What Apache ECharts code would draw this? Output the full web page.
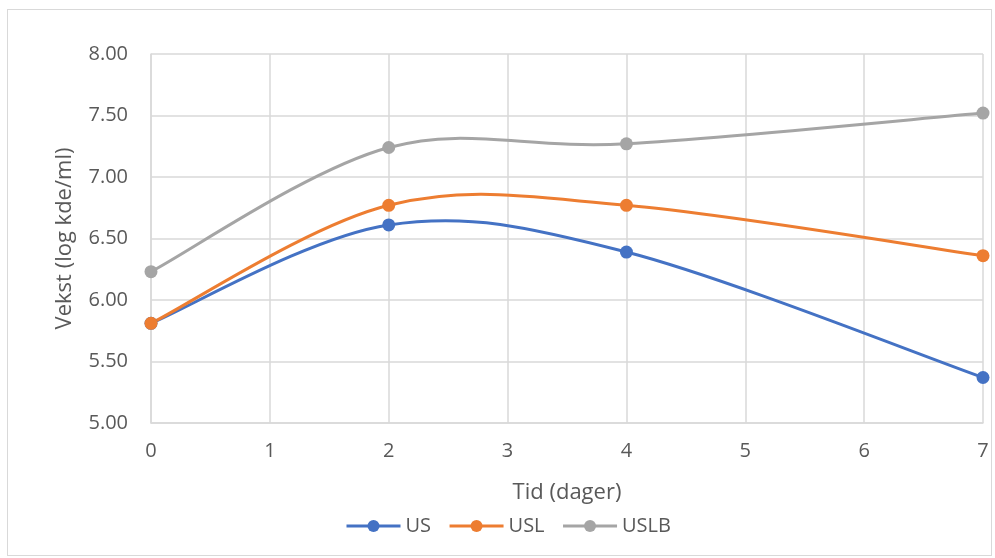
<!DOCTYPE html>
<html>
<head>
<meta charset="utf-8">
<script src="https://cdn.jsdelivr.net/npm/echarts@6/dist/echarts.min.js"></script>
<style>
html,body{margin:0;padding:0;background:#fff;}
#frame{position:absolute;left:7px;top:9px;width:985px;height:547px;border:1px solid #d9d9d9;box-sizing:border-box;}
#chart{position:absolute;left:0;top:0;width:995px;height:558px;}
</style>
</head>
<body>
<div id="frame"></div>
<div id="chart"></div>
<script>
const days = [0, 2, 4, 7];
const seriesNames = ['US', 'USL', 'USLB'];
const usValues = [5.81, 6.61, 6.39, 5.37];
const uslValues = [5.81, 6.77, 6.77, 6.36];
const uslbValues = [6.23, 7.24, 7.27, 7.52];
const colors = ['#4472C4', '#ED7D31', '#A5A5A5'];

const allValues = [usValues, uslValues, uslbValues];
const font = '"Open Sans", "Liberation Sans", sans-serif';
const labelColor = '#595959';
const gridColor = '#d9d9d9';

// Excel-like smoothed curve (Catmull-Rom -> cubic Bezier) through data points, via the axis scales
function smoothPath(pts) {
  let d = 'M' + pts[0][0] + ' ' + pts[0][1];
  for (let i = 0; i < pts.length - 1; i++) {
    const p0 = pts[i - 1] || pts[i];
    const p1 = pts[i];
    const p2 = pts[i + 1];
    const p3 = pts[i + 2] || pts[i + 1];
    const c1x = p1[0] + (p2[0] - p0[0]) / 6, c1y = p1[1] + (p2[1] - p0[1]) / 6;
    const c2x = p2[0] - (p3[0] - p1[0]) / 6, c2y = p2[1] - (p3[1] - p1[1]) / 6;
    d += ' C' + c1x + ' ' + c1y + ' ' + c2x + ' ' + c2y + ' ' + p2[0] + ' ' + p2[1];
  }
  return d;
}

const curveSeries = seriesNames.map((n, i) => ({
  name: n + '_curve',
  type: 'custom',
  z: 1,
  silent: true,
  data: [[days[0], allValues[i][0]]],
  renderItem: function (params, api) {
    if (params.dataIndex !== 0) return null;
    const pts = days.map((d, j) => api.coord([d, allValues[i][j]]));
    return {
      type: 'path',
      shape: { pathData: smoothPath(pts) },
      style: { fill: 'none', stroke: colors[i], lineWidth: 3 }
    };
  }
}));

const pointSeries = seriesNames.map((n, i) => ({
  name: n,
  type: 'line',
  z: 3,
  symbol: 'circle',
  symbolSize: 13,
  lineStyle: { width: 3, color: colors[i], opacity: 0 },
  itemStyle: { color: colors[i] },
  data: days.map((d, j) => [d, allValues[i][j]])
}));

const chart = echarts.init(document.getElementById('chart'));
chart.setOption({
  animation: false,
  color: colors,
  textStyle: { fontFamily: font },
  grid: { left: 151, right: 12, top: 54, bottom: 135 },
  legend: {
    bottom: 17,
    left: 340,
    itemWidth: 54,
    itemHeight: 15,
    itemGap: 17,
    lineStyle: { opacity: 1, width: 3 },
    textStyle: { fontSize: 20, color: labelColor, fontFamily: font },
    data: seriesNames
  },
  xAxis: {
    type: 'value',
    min: 0, max: 7, interval: 1,
    name: 'Tid (dager)',
    nameLocation: 'middle',
    nameGap: 59,
    nameTextStyle: { fontSize: 22, color: labelColor },
    axisLine: { show: true, lineStyle: { color: gridColor, width: 1.5 } },
    axisTick: { show: false },
    axisLabel: { fontSize: 20, color: labelColor, margin: 18 },
    splitLine: { show: true, lineStyle: { color: gridColor, width: 1.5 } }
  },
  yAxis: {
    type: 'value',
    min: 5, max: 8, interval: 0.5,
    name: 'Vekst (log kde/ml)',
    nameLocation: 'middle',
    nameGap: 75,
    nameTextStyle: { fontSize: 22, color: labelColor },
    axisLine: { show: true, lineStyle: { color: gridColor, width: 1.5 } },
    axisTick: { show: false },
    axisLabel: { fontSize: 20, color: labelColor, margin: 23, formatter: v => v.toFixed(2) },
    splitLine: { show: true, lineStyle: { color: gridColor, width: 1.5 } }
  },
  series: curveSeries.concat(pointSeries)
});
</script>
</body>
</html>
